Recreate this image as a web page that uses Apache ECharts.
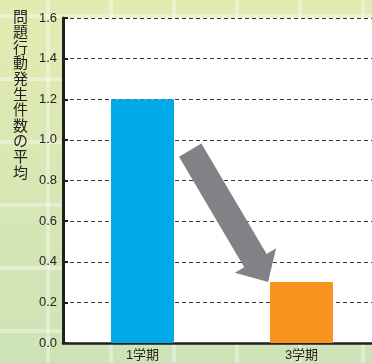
<!DOCTYPE html>
<html><head><meta charset="utf-8">
<script src="https://cdn.jsdelivr.net/npm/echarts@6/dist/echarts.min.js"></script>
<style>html,body{margin:0;padding:0;}#c{width:372px;height:363px;}</style>
</head><body><div id="c"></div>
<script>
const categories = ['1学期', '3学期'];
const values = [1.2, 0.3];
const barColors = ['#00aae9', '#f7931e'];
const yTicks = [0, 0.2, 0.4, 0.6, 0.8, 1.0, 1.2, 1.4, 1.6];
const yTitle = '問題行動発生件数の平均';

const chart = echarts.init(document.getElementById('c'), null, {renderer: 'canvas'});
const font = '"Liberation Sans", "Noto Sans CJK JP", sans-serif';

const bg = [];
for (let i = 0; i < 7; i++) {
  bg.push({type: 'rect', silent: true, z: -10, shape: {x: 46 + i * 63, y: 0, width: 4, height: 363}, style: {fill: 'rgba(255,255,255,0.35)'}});
  bg.push({type: 'rect', silent: true, z: -10, shape: {x: 0, y: 14 + i * 63, width: 372, height: 4}, style: {fill: 'rgba(255,255,255,0.35)'}});
}

const option = {
  animation: false,
  backgroundColor: {type: 'linear', x: 0, y: 0, x2: 0, y2: 1, colorStops: [{offset: 0, color: '#e3ebb1'}, {offset: 1, color: '#cde3b7'}]},
  grid: {left: 63, top: 18, right: -9, bottom: 20, show: true, backgroundColor: '#ffffff', borderWidth: 0,
    containLabel: false, outerBoundsMode: 'none'},
  xAxis: {
    type: 'category', data: categories,
    axisLine: {lineStyle: {color: '#231f20', width: 2.5}},
    axisTick: {show: false},
    axisLabel: {color: '#231f20', fontSize: 13, fontFamily: font, margin: 6},
  },
  yAxis: {
    type: 'value', min: 0, max: 1.6, interval: 0.2,
    axisLine: {show: true, lineStyle: {color: '#231f20', width: 3}},
    axisTick: {show: true, inside: true, length: 5, lineStyle: {color: '#231f20', width: 2}},
    axisLabel: {color: '#231f20', fontSize: 13, fontFamily: font, margin: 6,
      formatter: v => { const t = yTicks.find(x => Math.abs(x - v) < 1e-9); return (t !== undefined ? t : v).toFixed(1); }},
    splitLine: {show: true, lineStyle: {color: '#3a3a3a', type: [4, 3], width: 1}},
  },
  series: [{
    type: 'bar', data: values.map((v, i) => ({value: v, itemStyle: {color: barColors[i]}})),
    barWidth: 63, z: 3,
  }],
  graphic: bg.concat([{
    type: 'text', left: 13, top: 8, silent: true,
    style: {text: yTitle.split('').join('\n'), font: '15px "Noto Sans CJK JP", sans-serif', fill: '#231f20', lineHeight: 15.6}
  }])
};
chart.setOption(option);

const p0 = chart.convertToPixel({gridIndex: 0}, [0, 0.95]);
const p1 = chart.convertToPixel({gridIndex: 0}, [1, 0.3]);
const step = p1[0] - p0[0];
const tail = [p0[0] + 0.3 * step, p0[1]];
const tip = [p1[0] - 0.21 * step, p1[1]];
const dx = tip[0] - tail[0], dy = tip[1] - tail[1];
const L = Math.hypot(dx, dy);
const u = [dx / L, dy / L], n = [u[1], -u[0]];
const hw = 13, hh = 24, hl = 25;
const base = [tip[0] - u[0] * hl, tip[1] - u[1] * hl];
const pt = (c, s) => [c[0] + n[0] * s, c[1] + n[1] * s];
const pts = [pt(tail, -hw), pt(tail, hw), pt(base, hw), pt(base, hh), tip, pt(base, -hh), pt(base, -hw)];
chart.setOption({graphic: bg.concat([option.graphic[option.graphic.length - 1], {
  type: 'polygon', z: 100, silent: true, shape: {points: pts}, style: {fill: '#808285'}
}])});
</script></body></html>
